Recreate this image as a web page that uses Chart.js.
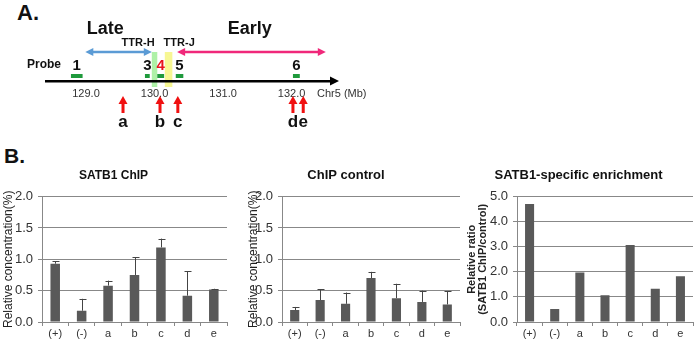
<!DOCTYPE html>
<html>
<head>
<meta charset="utf-8">
<script src="https://cdn.jsdelivr.net/npm/chart.js@4.4.0/dist/chart.umd.min.js"></script>
<style>
body{margin:0;width:697px;height:344px;overflow:hidden;background:#fff;position:relative;font-family:"Liberation Sans",Arial,sans-serif}
.box{position:absolute}
.panel{position:absolute;font-weight:bold;color:#111;line-height:1}
</style>
</head>
<body>
<div class="panel" style="left:17px;top:2px;font-size:22px">A.</div>
<div class="panel" style="left:4px;top:145px;font-size:21px">B.</div>
<div class="box" style="left:0;top:0"><canvas id="mapChart" width="370" height="135"></canvas></div>
<div class="box" style="left:0;top:160px"><canvas id="chip" width="237" height="184"></canvas></div>
<div class="box" style="left:232px;top:160px"><canvas id="ctrl" width="276" height="184"></canvas></div>
<div class="box" style="left:464px;top:160px"><canvas id="ratio" width="262" height="184"></canvas></div>
<script>
// panel A: Chr5 map (Mb)
let tickMb=[129,130,131,132];
let probeNames=['1','3','4','5','6'];
let probeStart=[128.78,129.86,130.04,130.31,132.02];
let probeEnd=[128.95,129.93,130.14,130.42,132.12];
let siteNames=['a','b','c','d','e'];
let siteMb=[129.54,130.08,130.34,132.02,132.17];
let lateRange=[128.99,129.96];
let earlyRange=[130.33,132.50];
let ttrH=[129.96,130.04];
let ttrJ=[130.15,130.26];

// panel B
let groups=['(+)','(-)','a','b','c','d','e'];
let chipVals=[0.93,0.18,0.58,0.75,1.19,0.42,0.52];
let chipErr=[0.04,0.19,0.08,0.28,0.14,0.39,0.01];
let ctrlVals=[0.19,0.35,0.29,0.70,0.38,0.32,0.28];
let ctrlErr=[0.05,0.17,0.18,0.10,0.23,0.18,0.21];
let ratioVals=[4.70,0.52,1.97,1.07,3.07,1.33,1.82];

const F='"Liberation Sans", Arial, sans-serif';

function dblArrow(ctx,x1,x2,y,col){
  ctx.strokeStyle=col;ctx.fillStyle=col;ctx.lineWidth=2.5;
  ctx.beginPath();ctx.moveTo(x1+5,y);ctx.lineTo(x2-5,y);ctx.stroke();
  ctx.beginPath();ctx.moveTo(x1,y);ctx.lineTo(x1+8,y-4);ctx.lineTo(x1+8,y+4);ctx.fill();
  ctx.beginPath();ctx.moveTo(x2,y);ctx.lineTo(x2-8,y-4);ctx.lineTo(x2-8,y+4);ctx.fill();
}

const mapPlugin={
  id:'mapDraw',
  beforeDraw(chart){
    const ctx=chart.ctx, b=chart.chartArea.bottom, xs=chart.scales.x;
    const px=v=>xs.getPixelForValue(v);
    ctx.save();
    ctx.fillStyle='rgba(140,235,130,0.7)';
    ctx.fillRect(px(ttrH[0]),b-29,px(ttrH[1])-px(ttrH[0]),35);
    ctx.fillStyle='rgba(245,245,120,0.8)';
    ctx.fillRect(px(ttrJ[0]),b-29,px(ttrJ[1])-px(ttrJ[0]),35);
    ctx.restore();
  },
  afterDraw(chart){
    const ctx=chart.ctx, {bottom:b,right:r}=chart.chartArea, xs=chart.scales.x;
    const px=v=>xs.getPixelForValue(v);
    ctx.save();
    // axis arrow head
    ctx.fillStyle='#000';
    ctx.beginPath();ctx.moveTo(r+7,b);ctx.lineTo(r-2,b-4.5);ctx.lineTo(r-2,b+4.5);ctx.fill();
    // replication timing arrows
    dblArrow(ctx,px(lateRange[0]),px(lateRange[1]),b-29,'#5b9bd5');
    dblArrow(ctx,px(earlyRange[0]),px(earlyRange[1]),b-29,'#f0287a');
    ctx.textAlign='center';ctx.textBaseline='middle';ctx.fillStyle='#111';
    ctx.font='bold 18px '+F;
    ctx.fillText('Late',px(129.28),b-52);
    ctx.fillText('Early',px(131.39),b-52);
    ctx.font='bold 11px '+F;
    ctx.fillText('TTR-H',px(129.76),b-38);
    ctx.fillText('TTR-J',px(130.36),b-38);
    // probes
    ctx.textAlign='left';ctx.font='bold 12px '+F;
    ctx.fillText('Probe',27,b-16);
    ctx.textAlign='center';ctx.font='bold 15px '+F;
    probeNames.forEach((n,i)=>{
      const x1=px(probeStart[i]),x2=px(probeEnd[i]);
      ctx.fillStyle='#1f9a3c';ctx.fillRect(x1,b-7,x2-x1,4);
      ctx.fillStyle=n==='4'?'#e8141e':'#111';
      ctx.fillText(n,(x1+x2)/2,b-15);
    });
    // ChIP sites
    siteNames.forEach((n,i)=>{
      const x=px(siteMb[i]);
      ctx.fillStyle='#f01010';
      ctx.fillRect(x-1.5,b+22,3,10);
      ctx.beginPath();ctx.moveTo(x,b+15);ctx.lineTo(x-4.5,b+23);ctx.lineTo(x+4.5,b+23);ctx.fill();
      ctx.fillStyle='#111';ctx.font='bold 17px '+F;
      ctx.fillText(n,x,b+41);
    });
    ctx.textAlign='left';ctx.font='11px '+F;ctx.fillStyle='#333';
    ctx.fillText('Chr5 (Mb)',r-15,b+13);
    ctx.restore();
  }
};

new Chart(document.getElementById('mapChart'),{
  type:'scatter',
  data:{datasets:[]},
  options:{
    responsive:false,animation:false,
    layout:{padding:{left:46,right:38,top:0,bottom:0}},
    plugins:{legend:{display:false},tooltip:{enabled:false}},
    scales:{
      x:{type:'linear',min:128.416,max:132.59,
        afterBuildTicks:s=>{s.ticks=tickMb.map(v=>({value:v}))},
        afterFit:s=>{s.height=54},
        grid:{display:false,drawTicks:false},
        border:{color:'#000',width:2.5},
        ticks:{font:{size:11,family:F},color:'#333',padding:6,maxRotation:0,autoSkip:false,callback:v=>v.toFixed(1)}},
      y:{display:false,min:0,max:1}
    }
  },
  plugins:[mapPlugin]
});

const errPlugin={
  id:'errBars',
  afterDatasetsDraw(chart){
    const errs=chart.config.options.errs;
    if(!errs) return;
    const ctx=chart.ctx, ys=chart.scales.y, ds=chart.data.datasets[0];
    ctx.save();ctx.strokeStyle='#444';ctx.lineWidth=1;
    chart.getDatasetMeta(0).data.forEach((bar,i)=>{
      const top=ys.getPixelForValue(ds.data[i]+errs[i]);
      const x=Math.round(bar.x)+0.5;
      ctx.beginPath();
      ctx.moveTo(x,bar.y);ctx.lineTo(x,top);
      ctx.moveTo(x-3,Math.round(top)+0.5);ctx.lineTo(x+4,Math.round(top)+0.5);
      ctx.stroke();
    });
    ctx.restore();
  }
};

function barChart(id,title,titleSize,yTitle,yFont,yPad,yMax,yStep,vals,errs,yWidth,padRight){
  return new Chart(document.getElementById(id),{
    type:'bar',
    data:{labels:groups,datasets:[{data:vals,backgroundColor:'#595959',barPercentage:0.36,categoryPercentage:1}]},
    options:{
      responsive:false,animation:false,errs:errs,
      layout:{padding:{left:0,right:padRight,top:0,bottom:0}},
      plugins:{legend:{display:false},tooltip:{enabled:false},
        title:{display:true,text:title,color:'#111',font:{size:titleSize,weight:'bold',family:F,lineHeight:15.6/titleSize},padding:{top:8,bottom:13}}},
      scales:{
        x:{grid:{drawOnChartArea:false,tickLength:4,color:'#888',offset:true},
           border:{color:'#888'},
           afterFit:s=>{s.height=22},
           ticks:{font:{size:11,family:F},color:'#333',padding:1}},
        y:{min:0,max:yMax,
           afterFit:s=>{s.width=yWidth},
           grid:{color:'#888',tickLength:4},
           border:{color:'#888'},
           ticks:{stepSize:yStep,font:{size:13,family:F},color:'#333',padding:5,callback:v=>v.toFixed(1)},
           title:{display:true,text:yTitle,color:'#222',font:yFont,padding:{top:yPad,bottom:0}}}
      }
    },
    plugins:[errPlugin]
  });
}

barChart('chip','SATB1 ChIP',12,'Relative concentration(%)',{size:12,family:F},1,2,0.5,chipVals,chipErr,42,10);
barChart('ctrl','ChIP control',13,'Relative concentration(%)',{size:12,family:F},14,2,0.5,ctrlVals,ctrlErr,50,48);
barChart('ratio','SATB1-specific enrichment',13,['Relative ratio','(SATB1 ChIP/control)'],{size:11,weight:'bold',family:F,lineHeight:1},2.5,5,1,ratioVals,null,53,33);
</script>
</body>
</html>
